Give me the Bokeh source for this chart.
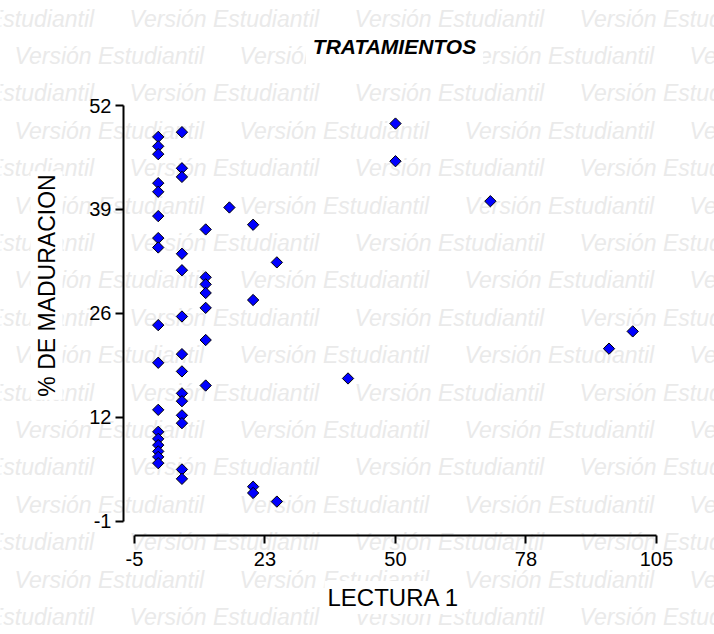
import math
from bokeh.plotting import figure
from bokeh.models import Range1d, FixedTicker, Label, LabelSet, ColumnDataSource
from bokeh.core.properties import value
from bokeh.embed import file_html
from bokeh.resources import INLINE

# ---- data ----
lectura_1 = [0, 0, 0, 0, 0, 0, 0, 0, 0, 0, 0, 0, 0, 0, 0, 0, 0,
             5, 5, 5, 5, 5, 5, 5, 5, 5, 5, 5, 5, 5, 5,
             10, 10, 10, 10, 10, 10, 10,
             15,
             20, 20, 20, 20,
             25, 25,
             40,
             50, 50,
             70,
             95,
             100]
maduracion = [48.0, 46.8, 45.8, 42.1, 41.0, 37.9, 35.1, 33.9, 24.0, 19.2, 13.2, 10.4, 9.5, 8.7, 7.9, 7.2, 6.4,
              48.6, 44.0, 42.9, 33.1, 31.0, 25.1, 20.3, 18.1, 15.3, 14.3, 12.5, 11.5, 5.6, 4.4,
              36.2, 30.1, 29.2, 28.1, 26.2, 22.1, 16.3,
              39.0,
              36.8, 27.2, 3.4, 2.6,
              32.0, 1.5,
              17.2,
              49.7, 44.9,
              39.8,
              21.0,
              23.2]

x_ticks = [-5, 22.5, 50, 77.5, 105]
x_tick_labels = ["-5", "23", "50", "78", "105"]
y_ticks = [-1, 12.25, 25.5, 38.75, 52]
y_tick_labels = ["-1", "12", "26", "39", "52"]

title_text = "TRATAMIENTOS"
x_title = "LECTURA 1"
y_title = "% DE MADURACION"
watermark_text = "Versión Estudiantil"

# ---- layout: the frame covers the whole canvas, axes are pinned inside ----
W, H = 714, 634
x0_px, x_per = 134.0, 4.745      # canvas px of x=-5, px per unit
y0_px, y_per = 520.7, 7.843      # canvas px of y=-1, px per unit
AX_LEFT_PX, AX_BOTTOM_PX = 123, 535

def px_to_x(px):
    return -5 + (px - x0_px) / x_per

def py_to_y(py):
    return -1 + (y0_px - py) / y_per

p = figure(width=W, height=H, output_backend="svg", toolbar_location=None,
           x_range=Range1d(px_to_x(0), px_to_x(W)),
           y_range=Range1d(py_to_y(H), py_to_y(0)),
           min_border=0)
p.min_border_left = p.min_border_right = p.min_border_top = p.min_border_bottom = 0
p.title.visible = False
p.outline_line_color = None
p.background_fill_color = "white"
p.border_fill_color = "white"
p.grid.visible = False

# watermark (behind everything)
wx, wy, wt = [], [], []
for k in range(17):
    cy = 18 + 37.4 * k
    start = 14 if k % 2 == 1 else -96
    for j in range(5):
        cx = start + 225 * j
        if cx > W:
            continue
        wx.append(cx)
        wy.append(H - cy)
        wt.append(watermark_text)
wm = LabelSet(x="x", y="y", text="t", x_units="screen", y_units="screen",
              source=ColumnDataSource(dict(x=wx, y=wy, t=wt)),
              text_font=value("Liberation Sans"), text_font_style="italic",
              text_font_size="23px", text_color="#eaeaea",
              text_align="left", text_baseline="middle", level="underlay")
p.add_layout(wm)

# axes
for ax in (p.xaxis[0], p.yaxis[0]):
    ax.axis_line_width = 2
    ax.axis_line_color = "black"
    ax.major_tick_line_width = 2
    ax.major_tick_line_color = "black"
    ax.major_tick_out = 8
    ax.major_tick_in = 0
    ax.minor_tick_line_color = None
    ax.major_label_text_font = "Liberation Sans"
    ax.major_label_text_font_size = "20px"
    ax.major_label_text_color = "black"
    props = ax.properties()
    if "major_label_background_fill_color" in props:
        ax.major_label_background_fill_color = "white"

p.xaxis.ticker = FixedTicker(ticks=x_ticks)
p.xaxis.major_label_overrides = dict(zip(x_ticks, x_tick_labels))
p.yaxis.ticker = FixedTicker(ticks=y_ticks)
p.yaxis.major_label_overrides = dict(zip(y_ticks, y_tick_labels))
p.xaxis.bounds = (-5, 105)
p.yaxis.bounds = (-1, 52)
p.xaxis.major_label_standoff = 8
p.yaxis.major_label_standoff = 4
p.xaxis.fixed_location = py_to_y(AX_BOTTOM_PX)
p.yaxis.fixed_location = px_to_x(AX_LEFT_PX)

# points
p.scatter(lectura_1, maduracion, marker="square", angle=math.pi / 4, size=8,
          fill_color="#0000ff", line_color="black", line_width=1)

has_padding = "padding" in Label().properties()

def add_text(text, cx, cy, size, style, angle=0.0, pad=4):
    kw = dict(x=cx, y=H - cy, x_units="screen", y_units="screen",
              text=text, text_font="Liberation Sans", text_font_style=style,
              text_font_size=size, text_color="black", text_align="center",
              text_baseline="middle", angle=angle,
              background_fill_color="white")
    if has_padding:
        kw["padding"] = pad
    lab = Label(**kw)
    p.add_layout(lab)

add_text(title_text, 394, 46, "21px", "bold italic", pad=7)
add_text(x_title, 393, 597, "24px", "normal", pad=3)
add_text(y_title, 46, 285, "23px", "normal", angle=math.pi / 2, pad=3)

open("out.html", "w").write(file_html(p, INLINE))
